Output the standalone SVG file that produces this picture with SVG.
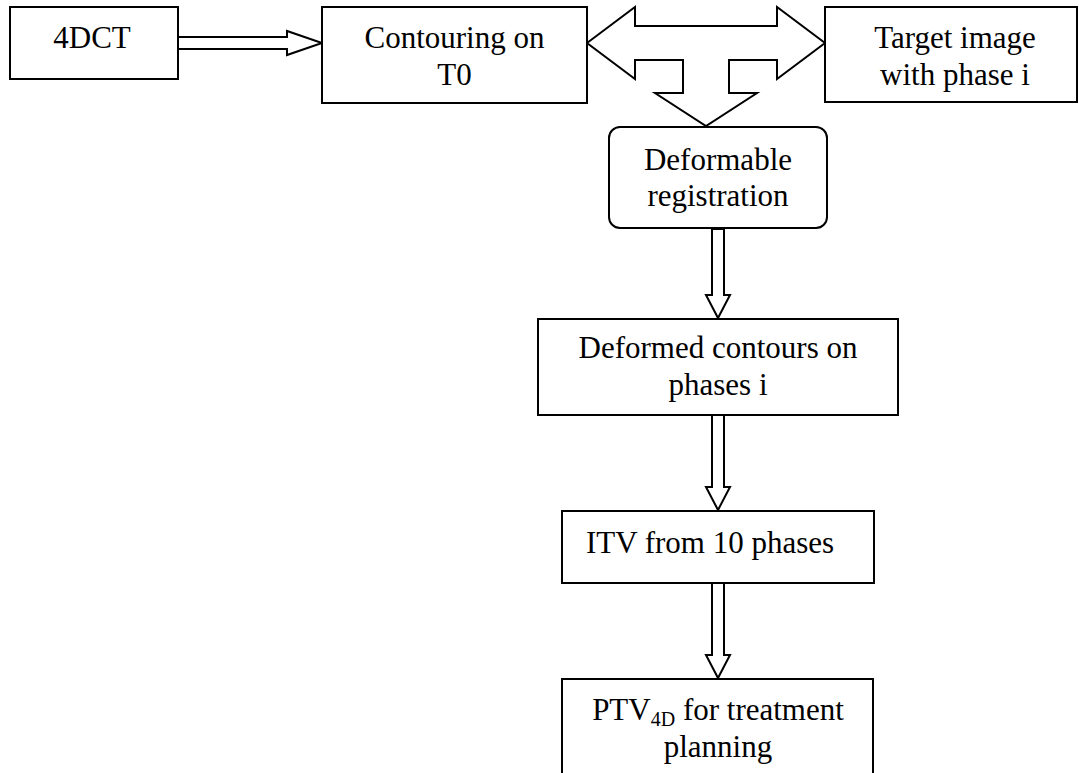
<svg xmlns="http://www.w3.org/2000/svg" width="1079" height="773" viewBox="0 0 1079 773">
<style>
.box{fill:#fff;stroke:#000;stroke-width:2}
.arr{fill:#fff;stroke:#000;stroke-width:2;stroke-linejoin:miter}
text{font-family:'Liberation Serif',Tinos,'Times New Roman',Times,'DejaVu Serif',serif;font-size:31px;fill:#000;text-anchor:middle}
</style>
<rect width="1079" height="773" fill="#fff"/>
<g id="connectors">
<polygon class="arr" points="178,37 287,37 287,31 322,43 287,55 287,49 178,49"/>
<polygon class="arr" points="587,43 635,7 635,26 777,26 777,7 825,43 777,79 777,60 729,60 729,93 757,93 706,126 655,93 683,93 683,60 635,60 635,79"/>
<polygon class="arr" points="712,229 724,229 724,295 730,295 718,318 706,295 712,295"/>
<polygon class="arr" points="712,415 724,415 724,487 730,487 718,510 706,487 712,487"/>
<polygon class="arr" points="712,583 724,583 724,655 730,655 718,678 706,655 712,655"/>
</g>
<g id="n4dct">
<rect class="box" x="10" y="7" width="168" height="72"/>
<text x="92" y="48">4DCT</text>
</g>
<g id="contouring">
<rect class="box" x="322" y="7" width="265" height="96"/>
<text x="454.5" y="48">Contouring on</text>
<text x="454.5" y="85">T0</text>
</g>
<g id="target">
<rect class="box" x="825" y="7" width="252" height="95"/>
<text x="955" y="48">Target image</text>
<text x="955" y="85">with phase i</text>
</g>
<g id="deformable">
<rect class="box" x="609" y="127" width="218" height="101" rx="11" ry="11"/>
<text x="718" y="170">Deformable</text>
<text x="718" y="206">registration</text>
</g>
<g id="deformed">
<rect class="box" x="538" y="319" width="360" height="96"/>
<text x="718" y="358">Deformed contours on</text>
<text x="718" y="395">phases i</text>
</g>
<g id="itv">
<rect class="box" x="562" y="511" width="312" height="72"/>
<text x="710" y="553">ITV from 10 phases</text>
</g>
<g id="ptv">
<rect class="box" x="562" y="679" width="311" height="100"/>
<text x="718" y="720">PTV<tspan font-size="20" dy="6">4D</tspan><tspan dy="-6"> for treatment</tspan></text>
<text x="718" y="757">planning</text>
</g>
</svg>
